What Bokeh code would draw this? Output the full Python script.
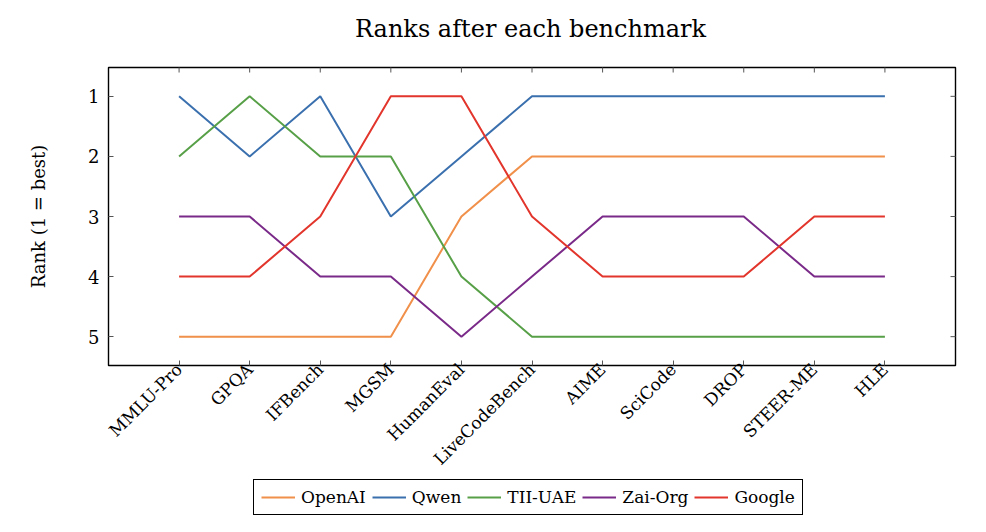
from bokeh.plotting import figure
from bokeh.models import Range1d, FixedTicker, LinearAxis, Legend, LegendItem, Label
from bokeh.layouts import column
from bokeh.embed import file_html
from bokeh.resources import INLINE
import math

benchmarks = ["MMLU-Pro", "GPQA", "IFBench", "MGSM", "HumanEval", "LiveCodeBench",
              "AIME", "SciCode", "DROP", "STEER-ME", "HLE"]
openai = [5, 5, 5, 5, 3, 2, 2, 2, 2, 2, 2]
qwen = [1, 2, 1, 3, 2, 1, 1, 1, 1, 1, 1]
tii_uae = [2, 1, 2, 2, 4, 5, 5, 5, 5, 5, 5]
zai_org = [3, 3, 4, 4, 5, 4, 3, 3, 3, 4, 4]
google = [4, 4, 3, 1, 1, 3, 4, 4, 4, 3, 3]
rank_ticks = [1, 2, 3, 4, 5]

series = [("OpenAI", openai, "#f0904a"),
          ("Qwen", qwen, "#3b70ae"),
          ("TII-UAE", tii_uae, "#58a048"),
          ("Zai-Org", zai_org, "#7a2a88"),
          ("Google", google, "#e2352c")]

FONT = "DejaVu Serif"
W = 978
LEFT = 108   # frames of all stacked figures are aligned to this left edge
xs = list(range(len(benchmarks)))
x_lo, x_hi = -1, 11
y_lo, y_hi = 0.52, 5.48


def strip(h):
    f = figure(width=W, height=h, output_backend="svg", toolbar_location=None,
               x_range=Range1d(0, 1), y_range=Range1d(10, 11),
               min_border_left=0, min_border_right=0, min_border_top=0,
               min_border_bottom=0, x_axis_type=None, y_axis_type=None)
    f.xgrid.visible = False
    f.ygrid.visible = False
    f.outline_line_color = None
    return f


# ---- title strip
title_h = 60
t = strip(title_h)
t.add_layout(Label(x=530 - LEFT, y=title_h - 28, x_units="screen", y_units="screen",
                   text="Ranks after each benchmark", text_font=FONT,
                   text_font_size="24px", text_color="black",
                   text_align="center", text_baseline="middle"))

# ---- main chart
p = figure(width=W, height=418, output_backend="svg", toolbar_location=None,
           x_range=Range1d(x_lo, x_hi), y_range=Range1d(y_hi, y_lo),
           min_border_left=LEFT, min_border_right=23, min_border_top=7,
           min_border_bottom=113, x_axis_type=None, y_axis_type=None)

p.xgrid.visible = False
p.ygrid.visible = False
p.outline_line_color = "black"
p.outline_line_width = 1.4
p.outline_line_alpha = 1.0

overrides = {i: b for i, b in enumerate(benchmarks)}


def style(ax, size):
    ax.major_tick_in = 5
    ax.major_tick_out = 0
    ax.minor_tick_line_color = None
    ax.axis_line_color = None
    ax.major_tick_line_color = "#555555"
    ax.major_label_text_font = FONT
    ax.major_label_text_font_size = size
    ax.major_label_text_color = "black"
    ax.axis_label_text_font = FONT
    ax.axis_label_text_font_size = "18px"
    ax.axis_label_text_font_style = "normal"
    ax.axis_label_text_color = "black"


xb = LinearAxis(ticker=FixedTicker(ticks=xs), major_label_overrides=overrides)
style(xb, "17px")
xb.major_label_orientation = math.pi / 4
xb.major_label_standoff = 1
p.add_layout(xb, "below")

yl = LinearAxis(ticker=FixedTicker(ticks=rank_ticks), axis_label="Rank (1 = best)")
style(yl, "18px")
yl.major_label_standoff = 9
yl.axis_label_standoff = 36
p.add_layout(yl, "left")

# mirrored inner ticks on the top and right edges (half of each dash is clipped)
p.scatter(xs, [y_lo] * len(xs), marker="dash", angle=math.pi / 2, size=10,
          line_color="#555555", line_width=1)
p.scatter([x_hi] * len(rank_ticks), rank_ticks, marker="dash", size=10,
          line_color="#555555", line_width=1)

for name, vals, color in series:
    p.line(xs, vals, line_color=color, line_width=2)

# ---- legend strip (its lines lie outside the strip's ranges, only the legend shows)
leg_h = 54
q = strip(leg_h)
items = []
for name, vals, color in series:
    r = q.line(xs, vals, line_color=color, line_width=2)
    items.append(LegendItem(label=name, renderers=[r]))

legend = Legend(items=items, orientation="horizontal",
                location=(253 - LEFT, leg_h - 37))
legend.label_text_font = FONT
legend.label_text_font_size = "17px"
legend.label_text_color = "black"
legend.glyph_width = 34
legend.glyph_height = 20
legend.label_height = 20
legend.label_standoff = 6
legend.spacing = 6
legend.padding = 7
legend.margin = 0
legend.border_line_color = "black"
legend.border_line_width = 1.6
legend.border_line_alpha = 1.0
legend.background_fill_alpha = 1.0
q.add_layout(legend, "center")

layout = column(t, p, q, spacing=0)
open("out.html", "w").write(file_html(layout, INLINE))
